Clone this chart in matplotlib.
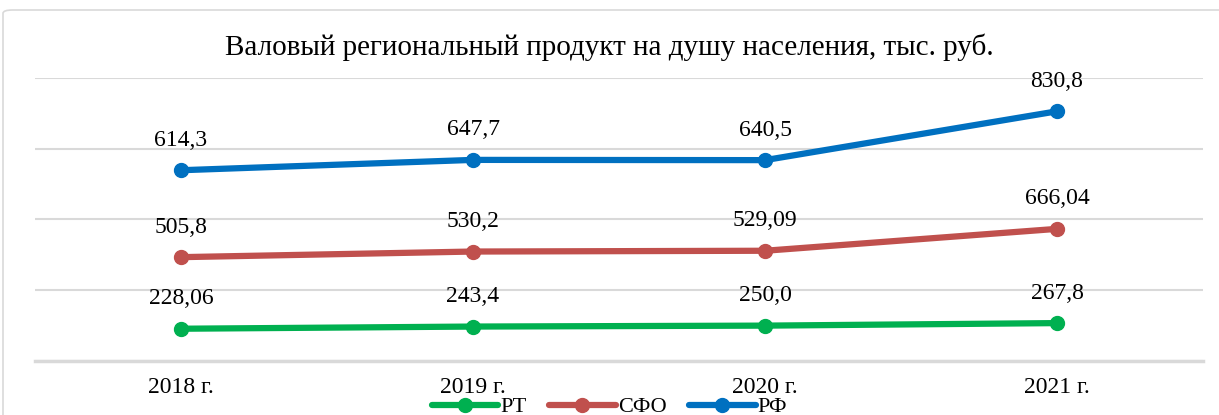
import numpy as np
import matplotlib.pyplot as plt
from matplotlib.patches import FancyBboxPatch

plt.rcParams['font.family'] = ['Liberation Serif', 'DejaVu Serif']

years = ['2018 г.', '2019 г.', '2020 г.', '2021 г.']
rt = [228.06, 243.4, 250.0, 267.8]
sfo = [505.8, 530.2, 529.09, 666.04]
rf = [614.3, 647.7, 640.5, 830.8]
rt_lbl = ['228,06', '243,4', '250,0', '267,8']
sfo_lbl = ['505,8', '530,2', '529,09', '666,04']
rf_lbl = ['614,3', '647,7', '640,5', '830,8']

names = ['РТ', 'СФО', 'РФ']
colors = ['#00B050', '#C0504D', '#0070C0']

# stacked line chart, like the original
series = [rt, sfo, rf]
labels = [rt_lbl, sfo_lbl, rf_lbl]
cum = np.cumsum(np.array(series), axis=0)

fig = plt.figure(figsize=(12.19, 4.15), dpi=100)
ax = fig.add_axes([35/1219, 1 - 361/415, 1168/1219, 283/415])

# chart frame
frame = FancyBboxPatch((3/1219, -0.05), 1.2, 1 - 10/415 + 0.05,
                       boxstyle='round,pad=0,rounding_size=0.008',
                       transform=fig.transFigure, fc='none', ec='#d9d9d9', lw=1.2)
fig.patches.append(frame)

x = np.arange(len(years))
for i in range(3):
    ax.plot(x, cum[i], color=colors[i], lw=4.5, marker='o', ms=10,
            solid_capstyle='round', label=names[i], zorder=3)
    for xi, yi, t in zip(x, cum[i], labels[i]):
        ax.annotate(t, (xi, yi), xytext=(0, 14), textcoords='offset points',
                    ha='center', va='bottom', fontsize=17)

ax.set_xlim(-0.5, 3.5)
ax.set_ylim(0, 2000)
ax.set_yticks([0, 500, 1000, 1500, 2000])
ax.yaxis.grid(True, color='#d9d9d9', lw=1.5)
ax.set_axisbelow(True)
ax.tick_params(left=False, labelleft=False, bottom=False)
ax.set_xticks(x)
ax.set_xticklabels(years, fontsize=17)
ax.tick_params(axis='x', pad=8)
for s in ['top', 'right', 'left']:
    ax.spines[s].set_visible(False)
ax.spines['bottom'].set_color('#d9d9d9')
ax.spines['bottom'].set_linewidth(2.5)

fig.text(0.5, 1 - 47/415, 'Валовый региональный продукт на душу населения, тыс. руб.',
         ha='center', va='center', fontsize=21)

fig.legend(loc='center', bbox_to_anchor=(0.5, 1 - 407/415), ncol=3, frameon=False,
           fontsize=16, handlelength=3.0, handletextpad=0.1, columnspacing=1.0,
           borderpad=0)

fig.savefig('out.png', dpi=100)
